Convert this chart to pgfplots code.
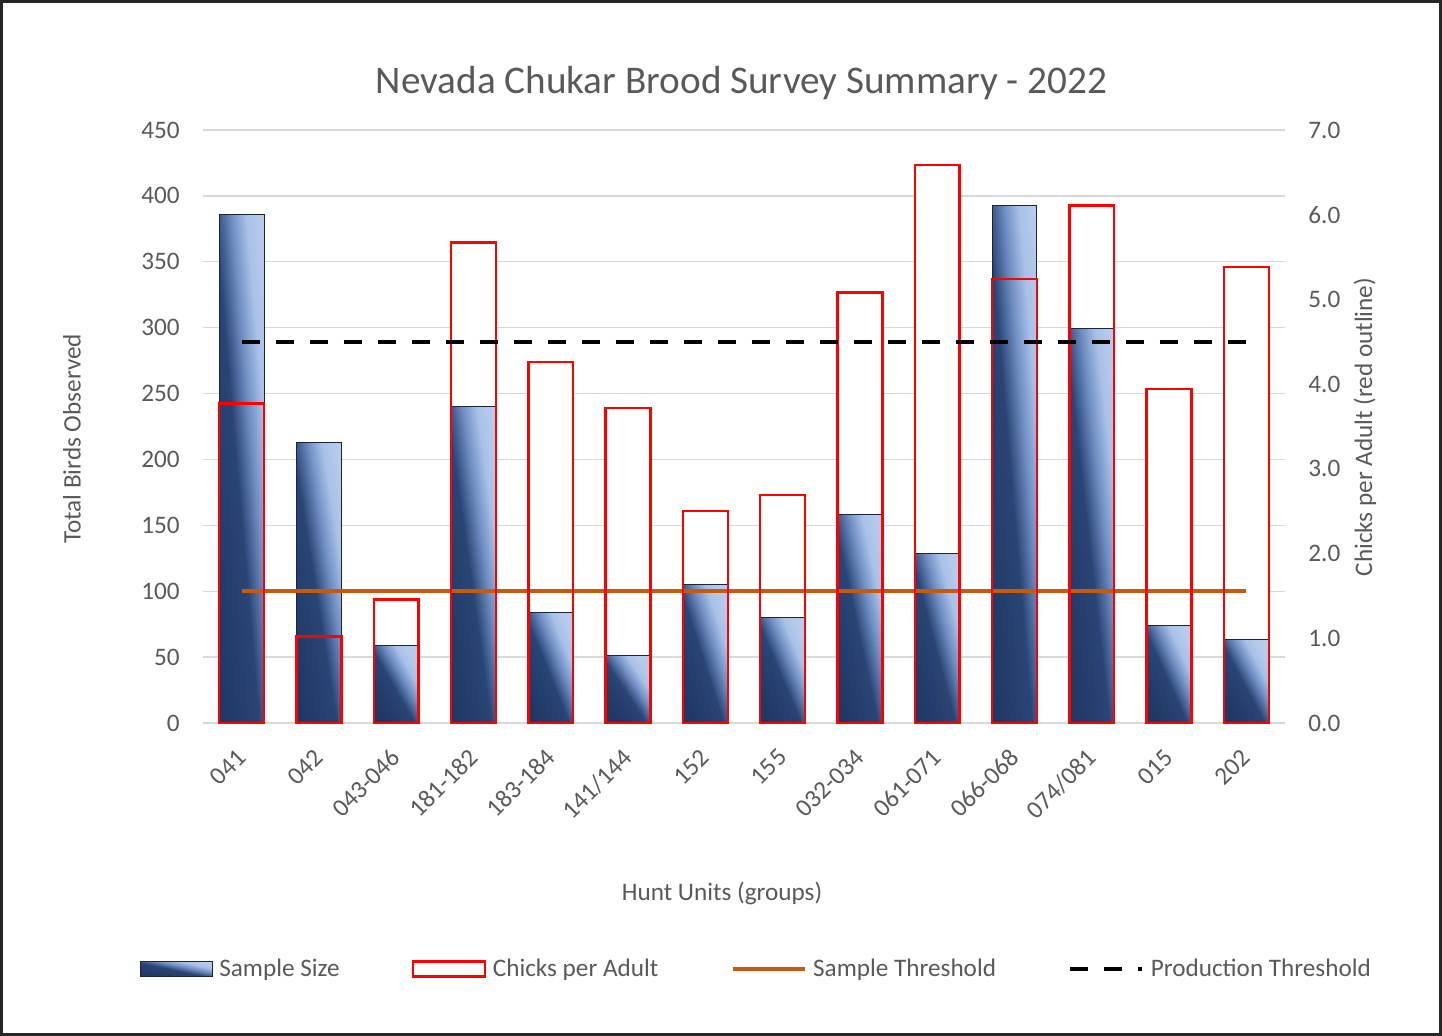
\documentclass[border=0pt]{standalone}
\usepackage{pgfplots}
\usepackage{pgfplotstable}
\pgfplotsset{compat=1.18}
\usepackage{fontspec}
\setmainfont{Carlito}

\definecolor{txtgray}{HTML}{595959}
\definecolor{gridgray}{HTML}{D9D9D9}
\definecolor{barnavy}{HTML}{1F3864}
\definecolor{barnavy2}{HTML}{2A4475}
\definecolor{barmid}{HTML}{6F8DC2}
\definecolor{barlight}{HTML}{A9C1E8}
\definecolor{barlight2}{HTML}{B7CBEC}
\definecolor{baredge}{HTML}{1B2536}
\definecolor{throrange}{HTML}{C55A11}
\definecolor{framegray}{HTML}{262626}

% dark over the lower-left half, light towards the top-right corner
\pgfdeclareverticalshading{chukar}{100bp}{color(0bp)=(barnavy); color(25bp)=(barnavy);
  color(47bp)=(barnavy2); color(57bp)=(barmid); color(66bp)=(barlight); color(75bp)=(barlight2);
  color(100bp)=(barlight2)}

% hunt unit groups: sample size (left axis), chicks per adult (right axis)
\pgfplotstableread{
x sample chicks
0  386 3.77
1  213 1.02
2  59  1.46
3  240 5.67
4  84  4.26
5  51  3.72
6  105 2.50
7  80  2.69
8  158 5.08
9  129 6.59
10 393 5.24
11 299 6.11
12 74  3.94
13 63  5.38
}\brood

\pgfplotsset{
  base/.style={
    width=541pt, height=296.5pt, scale only axis,
    xmin=-0.5, xmax=13.5,
    xtick={0,...,13},
    major tick length=0pt,
    axis line style={draw=none},
    tick label style={font=\fontsize{12.6}{15}\selectfont, color=txtgray},
    /pgf/number format/assume math mode=true,
  },
  leftscale/.style={ymin=0, ymax=450, ytick={0,50,...,450}},
  rightscale/.style={ymin=0, ymax=7, ytick={0,...,7}},
  sampbar/.style={ybar, bar width=0.58, bar shift=0pt, draw=baredge, line width=0.5pt,
    shade, shading=chukar},
  chickbar/.style={ybar, bar width=0.58, bar shift=0pt, draw=red, line width=1.2pt, fill=none},
  boxlegend/.style={legend image code/.code={\draw[##1] (0pt,-3.75pt) rectangle (36pt,3.75pt);}},
  linelegend/.style={legend image code/.code={\draw[##1] (0pt,0pt) -- (36pt,0pt);}},
}

\begin{document}
\begin{tikzpicture}
% grid, left ticks, category labels, titles
\begin{axis}[base, leftscale,
  ymajorgrids, grid style={gridgray, line width=0.7pt},
  xticklabels={041,042,043-046,181-182,183-184,141/144,152,155,032-034,061-071,066-068,074/081,015,202},
  xticklabel style={yshift=-15pt, rotate=45, anchor=east, inner sep=0pt},
  yticklabel style={anchor=east, inner sep=0pt, xshift=-11.5pt},
  title={Nevada Chukar Brood Survey Summary - 2022},
  every axis title/.style={at={(0.4977,1)}, anchor=center, yshift=23.5pt, font=\fontsize{19.6}{23}\selectfont, color=txtgray},
  xlabel={Hunt Units (groups)},
  xlabel style={at={(0.4797,-0.2867)}, anchor=center, font=\fontsize{12.6}{15}\selectfont, color=txtgray},
  ylabel={Total Birds Observed},
  every axis y label/.style={at={(-0.1211,0.479)}, anchor=center, rotate=90, font=\fontsize{12.6}{15}\selectfont, color=txtgray},
]
\end{axis}
% white body of the chicks bars, right ticks
\begin{axis}[base, rightscale, xtick=\empty, yticklabel pos=right,
  yticklabel style={anchor=west, inner sep=0pt, xshift=11.5pt,
    /pgf/number format/fixed, /pgf/number format/fixed zerofill, /pgf/number format/precision=1},
  ylabel={Chicks per Adult (red outline)},
  every axis y label/.style={at={(1.0739,0.499)}, anchor=center, rotate=90, font=\fontsize{12.6}{15}\selectfont, color=txtgray},
]
\addplot[ybar, bar width=0.58, bar shift=0pt, fill=white, draw=none] table[x=x, y=chicks]{\brood};
\end{axis}
% sample size bars: one plot per bar, gradient along each bar's own diagonal
\begin{axis}[base, leftscale, hide axis]
\pgfplotsinvokeforeach{0,...,13}{
  \pgfplotstablegetelem{#1}{sample}\of\brood
  \pgfmathsetmacro\barang{-atan(\pgfplotsretval*0.65889/22.414)}
  \edef\doplot{\noexpand\addplot[sampbar, shading angle=\barang,
    x filter/.expression={abs(x-#1)<0.2 ? x : nan}]}
  \doplot table[x=x, y=sample]{\brood};
}
\addplot[throrange, line width=2pt, sharp plot] coordinates {(0,100) (13,100)};
\end{axis}
% chicks outlines, production threshold, legend
\begin{axis}[base, rightscale, hide axis, clip=false,
  legend columns=4,
  legend style={at={(0.5135,-0.4148)}, anchor=center, draw=none, fill=none,
    font=\fontsize{12.6}{15}\selectfont, text=txtgray,
    nodes={inner xsep=3.2pt},
    /tikz/every even column/.append style={column sep=33pt}},
]
\addlegendimage{boxlegend, draw=baredge, line width=0.5pt, shade, shading=chukar, shading angle=-12}
\addlegendentry{Sample Size}
\addlegendimage{boxlegend, draw=red, line width=1.2pt, fill=white}
\addlegendentry{Chicks per Adult}
\addlegendimage{linelegend, throrange, line width=2pt}
\addlegendentry{Sample Threshold}
\addlegendimage{linelegend, black, line width=2pt, dash pattern=on 9pt off 8pt}
\addlegendentry{Production Threshold}
\addplot[chickbar, forget plot] table[x=x, y=chicks]{\brood};
\addplot[black, line width=2pt, dash pattern=on 9pt off 8pt, sharp plot, forget plot] coordinates {(0,4.5) (13,4.5)};
\coordinate (fsw) at ([shift={(-101.5pt,-156.5pt)}]rel axis cs:0,0);
\coordinate (fne) at ([shift={(78.5pt,65pt)}]rel axis cs:1,1);
\end{axis}
\draw[framegray, line width=1.5pt] ([shift={(0.75pt,0.75pt)}]fsw) rectangle ([shift={(-0.75pt,-0.75pt)}]fne);
\pgfresetboundingbox
\path (fsw) rectangle (fne);
\end{tikzpicture}
\end{document}
